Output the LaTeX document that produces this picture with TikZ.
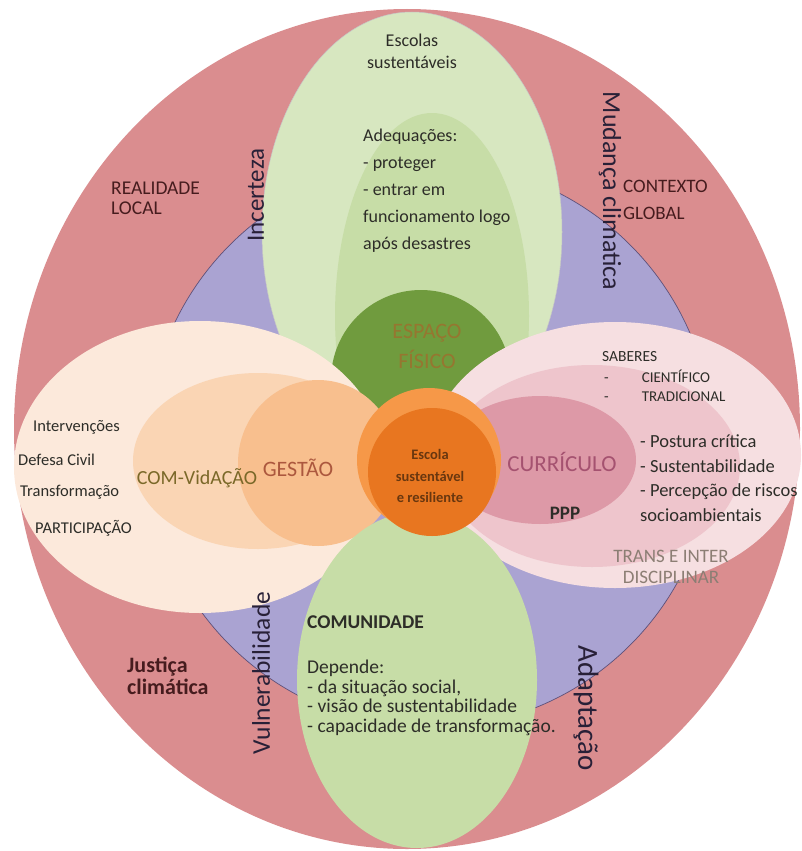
\documentclass[tikz,border=0pt]{standalone}
\usepackage{fontspec}
\setmainfont{Carlito}
\usepackage{tikz}
\usetikzlibrary{positioning}

\definecolor{ringred}{RGB}{218,141,143}
\definecolor{ringlilac}{RGB}{170,163,210}
\definecolor{lilacline}{RGB}{95,80,120}
\definecolor{topgreen}{RGB}{215,231,192}
\definecolor{midgreen}{RGB}{199,221,167}
\definecolor{darkgreen}{RGB}{112,155,62}
\definecolor{cream}{RGB}{252,233,219}
\definecolor{salmonA}{RGB}{250,213,180}
\definecolor{salmonB}{RGB}{248,191,142}
\definecolor{pinkA}{RGB}{246,223,225}
\definecolor{pinkB}{RGB}{238,197,204}
\definecolor{pinkC}{RGB}{221,153,167}
\definecolor{orangeA}{RGB}{246,152,72}
\definecolor{orangeB}{RGB}{232,118,32}
\definecolor{ink}{RGB}{45,45,40}
\definecolor{maroon}{RGB}{70,28,30}
\definecolor{navyink}{RGB}{40,32,55}
\definecolor{olive}{RGB}{122,104,40}
\definecolor{brick}{RGB}{172,88,62}
\definecolor{mauve}{RGB}{165,82,112}
\definecolor{greytext}{RGB}{140,126,116}
\definecolor{espaco}{RGB}{150,118,48}
\definecolor{brownink}{RGB}{105,55,15}

\newcommand{\txtsize}[2]{\fontsize{#1}{#2}\selectfont}

\begin{document}
\begin{tikzpicture}[x=1pt,y=-1pt,
  lbl/.style={text=ink},
  outerlbl/.style={text=maroon},
  sidelbl/.style={text=navyink},
  listlbl/.style={text=ink, anchor=west, font=\txtsize{16.5}{20}}]
\tikzstyle{every node}+=[inner sep=0pt]
\useasboundingbox (0,0) rectangle (802,851);
% rings
\fill [ringred] (407,429) ellipse [x radius=393, y radius=420];
\filldraw [fill=ringlilac, draw=lilacline, line width=0.7] (430,445) circle [radius=283];
% top petal
\filldraw [fill=topgreen, draw=gray!45, line width=0.5] (412,232) ellipse [x radius=150, y radius=220];
\fill [midgreen] (432,316) ellipse [x radius=97, y radius=203];
\fill [darkgreen] (421,380) circle [radius=90];
% left petal
\fill [cream] (200,467) ellipse [x radius=186, y radius=146];
% right petal
\fill [pinkA] (615,455) ellipse [x radius=186, y radius=133];
\fill [pinkB] (592,466) ellipse [x radius=148, y radius=101];
\fill [pinkC] (540,460) ellipse [x radius=96, y radius=64];
% left inner
\fill [salmonA] (258,461) ellipse [x radius=125, y radius=88];
\fill [salmonB] (318,463) ellipse [x radius=80, y radius=83];
% bottom petal
\fill [midgreen] (417,680) ellipse [x radius=120, y radius=168];
% centre
\fill [orangeA] (429,460) circle [radius=72];
\fill [orangeB] (432,472) circle [radius=64];

% texts
\node [lbl, align=center, font=\txtsize{18}{22}] (escolas) at (412,51) {Escolas\\sustentáveis};
\node [lbl, align=left, anchor=west, font=\txtsize{18}{27}] (adequa) at (363,191)
  {Adequações:\\- proteger\\- entrar em\\funcionamento logo\\após desastres};
\node [align=center, text=espaco, font=\txtsize{22}{30}] (espaco) at (427,346) {ESPAÇO\\FÍSICO};
\node [outerlbl, align=left, anchor=west, font=\txtsize{19.5}{20}] (local) at (111,198) {REALIDADE\\LOCAL};
\node [outerlbl, align=left, anchor=west, font=\txtsize{19}{27}] (global) at (623,200) {CONTEXTO\\GLOBAL};
\node [sidelbl, rotate=90, font=\txtsize{25}{30}] (incerteza) at (256,195) {Incerteza};
\node [sidelbl, rotate=-90, font=\txtsize{26}{30}] (mudanca) at (610,191) {Mudança climatica};
\node [sidelbl, rotate=90, font=\txtsize{25.5}{30}] (vulner) at (261,673) {Vulnerabilidade};
\node [sidelbl, rotate=-90, font=\txtsize{29}{30}] (adapta) at (586,708) {Adaptação};
\node [outerlbl, align=left, anchor=west, font=\bfseries\txtsize{22}{22}] (justica) at (127,676) {Justiça\\climática};
% left petal texts
\node [listlbl] (interv) at (33,427) {Intervenções};
\node [listlbl] (defesa) at (18,460) {Defesa Civil};
\node [listlbl] (transf) at (20,492) {Transformação};
\node [listlbl] (partic) at (35,528) {PARTICIPAÇÃO};
\node [text=olive, font=\txtsize{20}{24}] (comvida) at (197,478) {COM-VidAÇÃO};
\node [text=brick, font=\txtsize{22}{26}] (gestao) at (298,468) {GESTÃO};
\node [text=brownink, align=center, font=\bfseries\txtsize{14.5}{21.5}] (escola) at (430,476)
  {Escola\\sustentável\\e resiliente};
% right petal texts
\node [text=mauve, font=\txtsize{23}{26}] (curric) at (562,462) {CURRÍCULO};
\node [lbl, font=\bfseries\txtsize{19}{22}] (ppp) at (565,513) {PPP};
\node [lbl, anchor=west, font=\txtsize{15.5}{18}] (saberes) at (602,357) {SABERES};
\node [lbl, anchor=west, font=\txtsize{15}{18}] (cient) at (604,376) {-\hspace{33pt}CIENTÍFICO};
\node [lbl, anchor=west, font=\txtsize{15}{18}] (tradic) at (604,397) {-\hspace{33pt}TRADICIONAL};
\node [lbl, align=left, anchor=west, font=\txtsize{18.5}{24.6}] (postura) at (640,478)
  {- Postura crítica\\- Sustentabilidade\\- Percepção de riscos\\socioambientais};
\node [text=greytext, align=center, font=\txtsize{19}{21}] (trans) at (671,567) {TRANS E INTER\\DISCIPLINAR};
% bottom petal texts
\node [lbl, anchor=west, font=\bfseries\txtsize{19.5}{22}] (comunid) at (307,622) {COMUNIDADE};
\node [lbl, align=left, anchor=west, font=\txtsize{19.5}{19.5}] (depende) at (307,698)
  {Depende:\\- da situação social,\\- visão de sustentabilidade\\- capacidade de transformação.};
\end{tikzpicture}
\end{document}
